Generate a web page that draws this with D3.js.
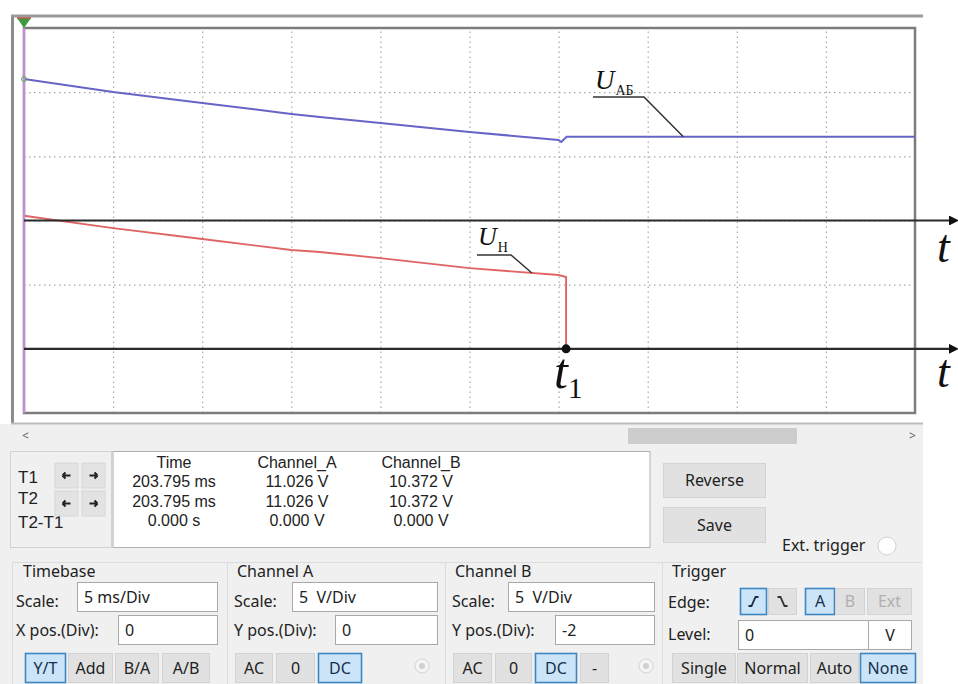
<!DOCTYPE html>
<html><head><meta charset="utf-8">
<script src="https://cdn.jsdelivr.net/npm/d3@7/dist/d3.min.js"></script>
<style>
body{margin:0;background:#fff;}
svg text{font-family:"Noto Sans",sans-serif;}
svg text.tbl{font-family:"Liberation Sans","Arimo",sans-serif;}
.serif{font-family:"Liberation Serif","DejaVu Serif",serif !important;}
</style>
</head><body>
<svg id="c" width="958" height="684"></svg>
<script>
// ---------- data (time in ms from screen start, volts) ----------
const timeA = [0, 5, 10, 15, 16.6, 20, 25, 30, 30.15, 30.45, 50];
const voltA = [11.026, 10.01, 9.16, 8.30, 8.06, 7.60, 6.90, 6.27, 6.12, 6.53, 6.53];
const timeB = [0, 5, 10, 15, 16.6, 20, 25, 30, 30.42, 30.42];
const voltB = [10.372, 9.41, 8.56, 7.70, 7.54, 7.07, 6.29, 5.75, 5.59, 0];
const t1 = 30.42;
const timePerDiv = 5, voltsPerDiv = 5, divsX = 10, divsY = 6, chBOffsetDiv = -2;
const labelA = ["U", "АБ"], labelB = ["U", "Н"], labelT1 = ["t", "1"];
const cursorHeaders = ["Time", "Channel_A", "Channel_B"];
const cursorNames = ["T1", "T2", "T2-T1"];
const cursorTime = ["203.795 ms", "203.795 ms", "0.000 s"];
const cursorA = ["11.026 V", "11.026 V", "0.000 V"];
const cursorB = ["10.372 V", "10.372 V", "0.000 V"];

const svg = d3.select("#c");
const X0 = 24, X1 = 915, Y0 = 28, Y1 = 413;
const x = d3.scaleLinear().domain([0, timePerDiv * divsX]).range([X0, X1]);
const yA = d3.scaleLinear().domain([-voltsPerDiv * divsY / 2, voltsPerDiv * divsY / 2]).range([Y1, Y0]);
const yB = v => yA(v + chBOffsetDiv * voltsPerDiv);

// ---------- screen frame ----------
svg.append("line").attr("x1", 12.5).attr("x2", 12.5).attr("y1", 15).attr("y2", 423).attr("stroke", "#8c8c8c").attr("stroke-width", 3);
svg.append("line").attr("x1", 11).attr("x2", 923).attr("y1", 16).attr("y2", 16).attr("stroke", "#9a9a9a").attr("stroke-width", 3);

// grid
const gx = svg.append("g").attr("transform", `translate(0,${Y1})`)
  .call(d3.axisBottom(x).tickValues(d3.range(1, divsX).map(i => i * timePerDiv)).tickSize(-(Y1 - Y0)).tickFormat(""));
gx.select(".domain").remove();
gx.selectAll("line").attr("stroke", "#a8a8a8").attr("stroke-width", 1.2).attr("stroke-dasharray", "1.5,3.5");
const gy = svg.append("g").attr("transform", `translate(${X0},0)`)
  .call(d3.axisLeft(yA).tickValues(d3.range(1, divsY).map(i => -voltsPerDiv * divsY / 2 + i * voltsPerDiv)).tickSize(-(X1 - X0)).tickFormat(""));
gy.select(".domain").remove();
gy.selectAll("line").attr("stroke", "#a8a8a8").attr("stroke-width", 1.2).attr("stroke-dasharray", "1.5,3.5");

svg.append("rect").attr("x", X0).attr("y", Y0).attr("width", X1 - X0).attr("height", Y1 - Y0)
  .attr("fill", "none").attr("stroke", "#7c7c7c").attr("stroke-width", 2.5);

// traces
const lineA = d3.line().x(d => x(d[0])).y(d => yA(d[1]));
const lineB = d3.line().x(d => x(d[0])).y(d => yB(d[1]));
svg.append("path").attr("d", lineA(timeA.map((t, i) => [t, voltA[i]]))).attr("fill", "none").attr("stroke", "#6565c8").attr("stroke-width", 2);
svg.append("path").attr("d", lineB(timeB.map((t, i) => [t, voltB[i]]))).attr("fill", "none").attr("stroke", "#e06464").attr("stroke-width", 1.9);

// cursor
svg.append("line").attr("x1", x(0)).attr("x2", x(0)).attr("y1", Y0).attr("y2", Y1).attr("stroke", "#c98ad8").attr("stroke-width", 2.2);
svg.append("path").attr("d", `M${x(0) - 7},18 L${x(0) + 7},18 L${x(0)},28 Z`).attr("fill", "#3f9a3f");
svg.append("line").attr("x1", x(0) - 7).attr("x2", x(0) + 7).attr("y1", 18).attr("y2", 18).attr("stroke", "#c25050").attr("stroke-width", 1.5);
svg.append("circle").attr("cx", x(0)).attr("cy", yA(voltA[0])).attr("r", 2.5).attr("fill", "none").attr("stroke", "#5ab05a");

// annotation time axes
const defs = svg.append("defs");
defs.append("marker").attr("id", "arr").attr("viewBox", "0 0 10 10").attr("refX", 1).attr("refY", 5)
  .attr("markerWidth", 4.5).attr("markerHeight", 4.5).attr("orient", "auto")
  .append("path").attr("d", "M0,0 L10,5 L0,10 Z").attr("fill", "#111");
[yA(0), yB(0)].forEach(yy => {
  svg.append("line").attr("x1", X0).attr("x2", 950).attr("y1", yy).attr("y2", yy)
    .attr("stroke", "#2a2a2a").attr("stroke-width", 2.2).attr("marker-end", "url(#arr)");
});
svg.append("text").attr("class", "serif").attr("x", 937).attr("y", 262).attr("font-size", 46).attr("font-style", "italic").attr("fill", "#111").text("t");
svg.append("text").attr("class", "serif").attr("x", 937).attr("y", 387).attr("font-size", 46).attr("font-style", "italic").attr("fill", "#111").text("t");

// t1 marker
svg.append("circle").attr("cx", x(t1)).attr("cy", yB(0)).attr("r", 4.5).attr("fill", "#111");
const tl = svg.append("text").attr("class", "serif").attr("x", x(t1) - 12).attr("y", 388).attr("fill", "#111");
tl.append("tspan").attr("font-size", 50).attr("font-style", "italic").text(labelT1[0]);
tl.append("tspan").attr("font-size", 29).attr("dy", 10).text(labelT1[1]);

// U labels
function interp(ts, vs, t) { for (let i = 1; i < ts.length; i++) { if (t <= ts[i]) { const f = (t - ts[i - 1]) / (ts[i] - ts[i - 1] || 1); return vs[i - 1] + f * (vs[i] - vs[i - 1]); } } return vs[vs.length - 1]; }
const la = svg.append("text").attr("class", "serif").attr("x", 595).attr("y", 89).attr("fill", "#111");
la.append("tspan").attr("font-size", 27).attr("font-style", "italic").text(labelA[0]);
la.append("tspan").attr("font-size", 14).attr("dy", 6).attr("dx", 1).text(labelA[1]);
const ea = [x(37), yA(interp(timeA, voltA, 37))];
svg.append("path").attr("d", `M593,97 L644,97 L${ea[0]},${ea[1]}`).attr("fill", "none").attr("stroke", "#333").attr("stroke-width", 1.5);
const lb = svg.append("text").attr("class", "serif").attr("x", 478).attr("y", 245).attr("fill", "#111");
lb.append("tspan").attr("font-size", 26).attr("font-style", "italic").text(labelB[0]);
lb.append("tspan").attr("font-size", 14).attr("dy", 7).attr("dx", 1).text(labelB[1]);
const eb = [x(28.5), yB(interp(timeB, voltB, 28.5))];
svg.append("path").attr("d", `M477,255 L511,255 L${eb[0]},${eb[1]}`).attr("fill", "none").attr("stroke", "#333").attr("stroke-width", 1.5);

// ---------- lower panel ----------
svg.append("rect").attr("x", 0).attr("y", 424).attr("width", 923).attr("height", 260).attr("fill", "#f0f0f0");
svg.append("line").attr("x1", 11).attr("x2", 923).attr("y1", 423.5).attr("y2", 423.5).attr("stroke", "#bdbdbd").attr("stroke-width", 2);
svg.append("rect").attr("x", 628).attr("y", 428).attr("width", 169).attr("height", 16).attr("fill", "#cdcdcd");
svg.append("text").attr("x", 22).attr("y", 440).attr("font-size", 12).attr("fill", "#606060").text("<");
svg.append("text").attr("x", 909).attr("y", 440).attr("font-size", 12).attr("fill", "#606060").text(">");

const txt = (xx, yy, s, opt = {}) => svg.append("text").attr("x", xx).attr("y", yy).attr("font-size", opt.size || 16)
  .attr("class", opt.cls || null)
  .attr("text-anchor", opt.anchor || "start").attr("fill", opt.fill || "#222").attr("xml:space", "preserve").text(s);

// cursor readout
svg.append("rect").attr("x", 10.5).attr("y", 451.5).attr("width", 101).attr("height", 96).attr("fill", "#f0f0f0").attr("stroke", "#d2d2d2");
svg.append("rect").attr("x", 113).attr("y", 451.5).attr("width", 537).attr("height", 96).attr("fill", "#fff").attr("stroke", "#b0b0b0");
const rowsY = [483, 504, 528];
cursorNames.forEach((n, i) => txt(18, rowsY[i], n, { size: 17, cls: "tbl" }));
[[55, 463], [82, 463], [55, 491], [82, 491]].forEach((p, i) => {
  svg.append("rect").attr("x", p[0]).attr("y", p[1]).attr("width", 23).attr("height", 25).attr("fill", "#e3e3e3").attr("stroke", "#d6d6d6");
  const cx = p[0] + 11.5, cy = p[1] + 12.5, d = i % 2 === 0 ? 1 : -1;
  svg.append("path").attr("d", `M${cx - 4 * d},${cy} L${cx + 4 * d},${cy} M${cx - 4 * d},${cy} L${cx - 1 * d},${cy - 3} M${cx - 4 * d},${cy} L${cx - 1 * d},${cy + 3}`)
    .attr("stroke", "#222").attr("stroke-width", 2).attr("fill", "none");
});
const colX = [174, 297, 421];
const hdrY = 468, valY = [487, 506.5, 526];
cursorHeaders.forEach((h, i) => txt(colX[i], hdrY, h, { anchor: "middle", cls: "tbl" }));
[cursorTime, cursorA, cursorB].forEach((col, ci) => col.forEach((v, ri) => txt(colX[ci], valY[ri], v, { anchor: "middle", cls: "tbl" })));

function button(x0, y0, w, h, label, state) {
  const on = state === "on";
  svg.append("rect").attr("x", x0 + 0.5).attr("y", y0 + 0.5).attr("width", w - 1).attr("height", h - 1)
    .attr("fill", on ? "#cce4f7" : "#e1e1e1").attr("stroke", on ? "#3d86c4" : "#d3d3d3").attr("stroke-width", on ? 1.6 : 1);
  if (label) txt(x0 + w / 2, y0 + h / 2 + 5.5, label, { anchor: "middle", fill: state === "off" ? "#b0b0b0" : (on ? "#17304f" : "#222") });
}
function input(x0, y0, w, h, value) {
  svg.append("rect").attr("x", x0 + 0.5).attr("y", y0 + 0.5).attr("width", w - 1).attr("height", h - 1).attr("fill", "#fff").attr("stroke", "#a8a8a8");
  if (value) txt(x0 + 7, y0 + h / 2 + 5.5, value);
}
button(663, 463, 103, 35, "Reverse");
button(663, 507, 103, 36, "Save");
txt(782, 551, "Ext. trigger");
svg.append("circle").attr("cx", 887).attr("cy", 546).attr("r", 9).attr("fill", "#fff").attr("stroke", "#d0d0d0");

// group frames
svg.append("path").attr("d", "M12.5,684 V562.5 H922").attr("fill", "none").attr("stroke", "#dcdcdc");
[227, 445, 662].forEach(gxp => svg.append("line").attr("x1", gxp + 0.5).attr("x2", gxp + 0.5).attr("y1", 562).attr("y2", 684).attr("stroke", "#dcdcdc"));

// Timebase
txt(23, 577, "Timebase");
txt(16, 607, "Scale:"); input(77, 582, 141, 30, "5 ms/Div");
txt(16, 636, "X pos.(Div):"); input(118, 615, 100, 30, "0");
button(25, 653, 41, 30, "Y/T", "on"); button(68, 653, 45, 30, "Add"); button(115, 653, 44, 30, "B/A"); button(162, 653, 48, 30, "A/B");
// Channel A
txt(237, 577, "Channel A");
txt(234, 607, "Scale:"); input(292, 582, 146, 30, "5  V/Div");
txt(234, 636, "Y pos.(Div):"); input(335, 615, 103, 30, "0");
button(235, 653, 38, 30, "AC"); button(276, 653, 39, 30, "0"); button(318, 653, 44, 30, "DC", "on");
svg.append("circle").attr("cx", 422).attr("cy", 666).attr("r", 7).attr("fill", "#f4f4f4").attr("stroke", "#d4d4d4");
svg.append("circle").attr("cx", 422).attr("cy", 666).attr("r", 3).attr("fill", "#d0d0d0");
// Channel B
txt(455, 577, "Channel B");
txt(452, 607, "Scale:"); input(508, 582, 147, 30, "5  V/Div");
txt(452, 636, "Y pos.(Div):"); input(555, 615, 100, 30, "-2");
button(453, 653, 39, 30, "AC"); button(495, 653, 37, 30, "0"); button(535, 653, 42, 30, "DC", "on"); button(580, 653, 29, 30, "-");
svg.append("circle").attr("cx", 646).attr("cy", 666).attr("r", 7).attr("fill", "#f4f4f4").attr("stroke", "#d4d4d4");
svg.append("circle").attr("cx", 646).attr("cy", 666).attr("r", 3).attr("fill", "#d0d0d0");
// Trigger
txt(672, 577, "Trigger");
txt(668, 608, "Edge:");
button(740, 588, 27, 27, "", "on"); button(768, 588, 29, 27, "");
svg.append("path").attr("d", "M748.5,606 H751.5 L755.5,597 H758.5").attr("stroke", "#1b2b44").attr("stroke-width", 1.8).attr("fill", "none");
svg.append("path").attr("d", "M777.5,597 H780.5 L784.5,606 H787.5").attr("stroke", "#333").attr("stroke-width", 1.8).attr("fill", "none");
button(805, 588, 30, 27, "A", "on"); button(835, 588, 30, 27, "B", "off"); button(867, 588, 45, 27, "Ext", "off");
txt(668, 640, "Level:"); input(738, 620, 131, 30, "0"); input(868, 620, 44, 30, "");
txt(890, 641, "V", { anchor: "middle" });
button(672, 653, 64, 30, "Single"); button(737, 653, 71, 30, "Normal"); button(810, 653, 49, 30, "Auto"); button(860, 653, 56, 30, "None", "on");
</script>
</body></html>
